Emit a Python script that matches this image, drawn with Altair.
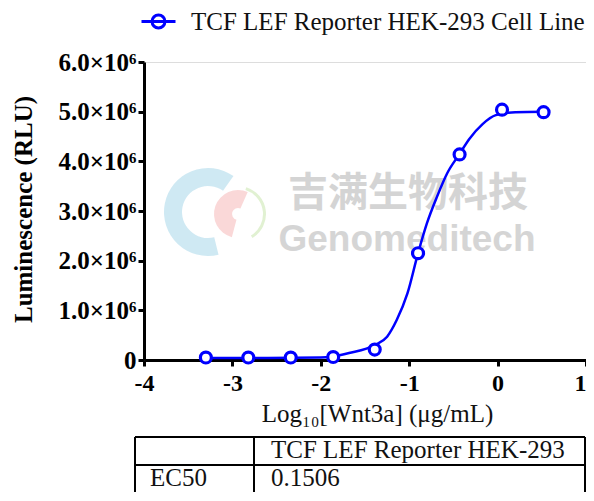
import altair as alt
import pandas as pd

series_name = "TCF LEF Reporter HEK-293 Cell Line"

# measured points
log_conc = [-3.30, -2.82, -2.34, -1.86, -1.39, -0.90, -0.43, 0.05, 0.52]
lum = [0.05e6, 0.05e6, 0.05e6, 0.06e6, 0.21e6, 2.15e6, 4.14e6, 5.04e6, 4.99e6]

# fitted curve
curve_x = [-3.30, -2.60, -2.00, -1.87, -1.68, -1.39, -1.25, -1.14, -1.02,
           -0.90, -0.80, -0.685, -0.57, -0.43, -0.32, -0.17, -0.02, 0.20, 0.52]
curve_y = [0.04e6, 0.04e6, 0.05e6, 0.07e6, 0.14e6, 0.30e6, 0.47e6, 0.81e6, 1.34e6,
           2.15e6, 2.75e6, 3.29e6, 3.76e6, 4.15e6, 4.45e6, 4.75e6, 4.93e6, 4.99e6, 5.00e6]

x_ticks = [-4, -3, -2, -1, 0, 1]
y_ticks = [0, 1e6, 2e6, 3e6, 4e6, 5e6, 6e6]

table_header = ["", "TCF LEF Reporter HEK-293"]
table_row = ["EC50", "0.1506"]

wm_cn = "吉满生物科技"
wm_en = "Genomeditech"

SERIF = "Liberation Serif"
BLUE = "#0000ff"
PL, PT, PB = 136, 54, 132
W, H = 442, 298

pts = pd.DataFrame({"x": log_conc, "y": lum, "series": series_name})
crv = pd.DataFrame({"x": curve_x, "y": curve_y, "series": series_name})

legend_path = ("M-1,0L1,0M-0.38,0A0.38,0.38,0,1,1,0.38,0"
               "A0.38,0.38,0,1,1,-0.38,0")
legend = alt.Legend(title=None, orient="none", legendX=-4, legendY=-59,
                    symbolType=legend_path, symbolSize=1156, symbolStrokeWidth=3,
                    labelFont=SERIF, labelFontSize=25, labelColor="#111111",
                    labelLimit=0, labelOffset=14, padding=0)

xscale = alt.Scale(domain=[-4, 1], nice=False, zero=False)
yscale = alt.Scale(domain=[0, 6e6], nice=False)
color = alt.Color("series:N", scale=alt.Scale(domain=[series_name], range=[BLUE]),
                  legend=legend)

xaxis = alt.Axis(values=x_ticks, title="Log₁₀[Wnt3a] (μg/mL)", format="d",
                 labelFont=SERIF, labelFontWeight="bold", labelFontSize=24,
                 labelColor="black", labelPadding=5,
                 labelExpr="replace(datum.label, '−', '-')",
                 labelAlign={"condition": {"test": "datum.value == 1", "value": "right"},
                             "value": "center"},
                 tickWidth=3, tickSize=6, tickColor="black",
                 domainWidth=3, domainColor="black", grid=False,
                 titleFont=SERIF, titleFontWeight="normal", titleFontSize=25,
                 titleColor="#111111", titleX=233, titleY=61,
                 titleBaseline="alphabetic")
yaxis = alt.Axis(values=y_ticks, title="Luminescence (RLU)",
                 labelExpr="datum.value == 0 ? '0' : format(datum.value / 1e6, '.1f') + '×10⁶'",
                 labelFont=SERIF, labelFontWeight="bold", labelFontSize=25,
                 labelColor="black", labelPadding=2,
                 tickWidth=3, tickSize=6, tickColor="black",
                 domainWidth=3, domainColor="black", grid=False,
                 titleFont=SERIF, titleFontWeight="bold", titleFontSize=25,
                 titleColor="black", titleX=-113, titleY=147,
                 titleBaseline="alphabetic")

curve = alt.Chart(crv).mark_line(strokeWidth=2.5, interpolate="monotone").encode(
    x=alt.X("x:Q", scale=xscale, axis=xaxis),
    y=alt.Y("y:Q", scale=yscale, axis=yaxis),
    color=color,
)
points = alt.Chart(pts).mark_point(shape="circle", size=120, strokeWidth=3.2,
                                   filled=False, fill="white", fillOpacity=1,
                                   opacity=1).encode(
    x=alt.X("x:Q", scale=xscale),
    y=alt.Y("y:Q", scale=yscale),
    color=color,
)


def px(v):
    return v - 8 - PL


def py(v):
    return v - 8 - PT


# watermark
wm = pd.DataFrame({"t": [wm_cn]})
wm_cn_mark = alt.Chart(wm).mark_text(font="Noto Sans CJK SC", fontWeight="bold",
                                     fontSize=40, color="#c6c6c6", opacity=0.75).encode(
    text="t:N", x=alt.value(px(408)), y=alt.value(py(194)))
wm2 = pd.DataFrame({"t": [wm_en]})
wm_en_mark = alt.Chart(wm2).mark_text(font="Liberation Sans", fontWeight="bold",
                                      fontSize=37, color="#c8c8c8", opacity=0.75).encode(
    text="t:N", x=alt.value(px(407)), y=alt.value(py(240)))
logo_blue = alt.Chart(wm).mark_arc(color="#9fd3e8", opacity=0.5, radius=44, radius2=26,
                                   theta=2.9, theta2=6.9).encode(
    x=alt.value(px(208)), y=alt.value(py(212)))
logo_pink = alt.Chart(wm).mark_arc(color="#f4a8a8", opacity=0.45, radius=24, radius2=6,
                                   theta=3.4, theta2=6.7).encode(
    x=alt.value(px(238)), y=alt.value(py(214)))
logo_green = alt.Chart(wm).mark_arc(color="#cde8b4", opacity=0.6, radius=28, radius2=25,
                                    theta=0.3, theta2=2.6).encode(
    x=alt.value(px(238)), y=alt.value(py(214)))

# table
tl, tr, tt, tm, td, tb = px(135), px(585), py(437), py(465), px(254), py(500)
hl = pd.DataFrame({"a": [0]})
table_lines = [
    alt.Chart(hl).mark_rule(color="black", strokeWidth=2).encode(
        x=alt.value(tl), x2=alt.value(tr), y=alt.value(tt)),
    alt.Chart(hl).mark_rule(color="black", strokeWidth=2).encode(
        x=alt.value(tl), x2=alt.value(tr), y=alt.value(tm)),
    alt.Chart(hl).mark_rule(color="black", strokeWidth=2).encode(
        x=alt.value(tl), y=alt.value(tt), y2=alt.value(tb)),
    alt.Chart(hl).mark_rule(color="black", strokeWidth=2).encode(
        x=alt.value(td), y=alt.value(tt), y2=alt.value(tb)),
    alt.Chart(hl).mark_rule(color="black", strokeWidth=2).encode(
        x=alt.value(tr), y=alt.value(tt), y2=alt.value(tb)),
]
cells = pd.DataFrame({
    "t": table_header + table_row,
    "cx": [px(150), px(271), px(150), px(271)],
    "cy": [py(458), py(458), py(486), py(486)],
})
table_text = alt.Chart(cells).mark_text(font=SERIF, fontSize=25, align="left",
                                        baseline="alphabetic", color="#111111").encode(
    text="t:N", x=alt.X("cx:Q", scale=None), y=alt.Y("cy:Q", scale=None))

chart = alt.layer(
    logo_blue, logo_pink, logo_green, wm_cn_mark, wm_en_mark,
    curve, points, *table_lines, table_text,
).properties(
    width=W, height=H,
    autosize=alt.AutoSizeParams(type="none"),
    padding={"left": PL, "top": PT, "right": 0, "bottom": PB},
).configure_view(stroke=None).configure(background="white")

chart.save("out.html", embed_options={"renderer": "svg", "actions": False})
